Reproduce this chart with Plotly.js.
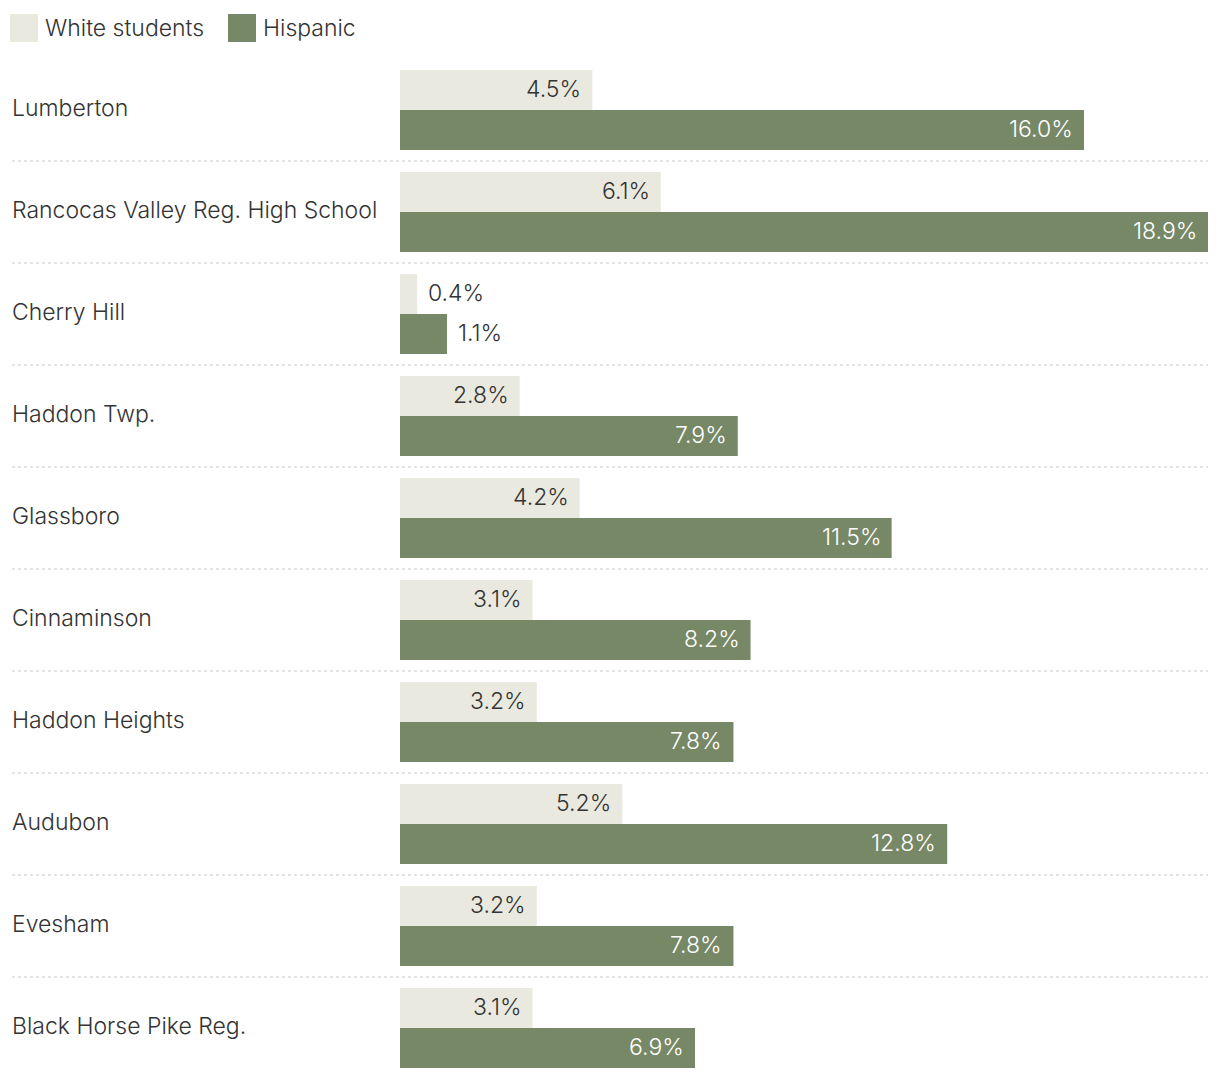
<!DOCTYPE html>
<html>
<head>
<meta charset="utf-8">
<script src="https://cdn.plot.ly/plotly-3.0.1.min.js"></script>
<style>html,body{margin:0;padding:0;background:#fff;}#chart{width:1220px;height:1078px;}</style>
</head>
<body>
<div id="chart"></div>
<script>
const categories = ["Lumberton","Rancocas Valley Reg. High School","Cherry Hill","Haddon Twp.","Glassboro","Cinnaminson","Haddon Heights","Audubon","Evesham","Black Horse Pike Reg."];
const whiteValues = [4.5, 6.1, 0.4, 2.8, 4.2, 3.1, 3.2, 5.2, 3.2, 3.1];
const hispanicValues = [16.0, 18.9, 1.1, 7.9, 11.5, 8.2, 7.8, 12.8, 7.8, 6.9];
const seriesNames = ["White students", "Hispanic"];

const W = 1220, H = 1078;
const mL = 400, mR = 12, mT = 59, mB = 0;
const plotW = W - mL - mR, plotH = H - mT - mB;
const px = x => (x - mL) / plotW;
const py = y => (H - mB - y) / plotH;

const FONT = "Inter, 'Open Sans', sans-serif";
const DARK = "#333333";
const LIGHT = "#eae9e0";
const GREEN = "#778866";
const FS = 23;
const FW = 300;

const traces = [
  {type:"bar", orientation:"h", name:seriesNames[0], y:categories, x:whiteValues,
   marker:{color:LIGHT, line:{width:0}}, hoverinfo:"x+name"},
  {type:"bar", orientation:"h", name:seriesNames[1], y:categories, x:hispanicValues,
   marker:{color:GREEN, line:{width:0}}, hoverinfo:"x+name"}
];

const annotations = [];
const shapes = [];
categories.forEach((c, i) => {
  annotations.push({xref:"paper", yref:"y", x:px(11), y:c, yshift:2, xanchor:"left", yanchor:"middle",
    borderpad:0, text:c, showarrow:false, font:{family:FONT, size:FS, weight:FW, color:DARK}});
  [[whiteValues, 21, DARK], [hispanicValues, -19, "#ffffff"]].forEach(([vals, ys, inCol]) => {
    const v = vals[i];
    const outside = v < 1.5;
    annotations.push({xref:"x", yref:"y", x:v, y:c, yshift:ys, borderpad:0,
      xanchor: outside ? "left" : "right", xshift: outside ? 10 : -10, yanchor:"middle",
      text: v.toFixed(1) + "%", showarrow:false,
      font:{family:FONT, size:FS, weight:FW, color: outside ? DARK : inCol}});
  });
  if (i < categories.length - 1) {
    shapes.push({type:"line", xref:"paper", yref:"y", x0:px(12), x1:px(1208), y0:i+0.5, y1:i+0.5,
      line:{color:"#c8c8c8", width:1, dash:"dot"}});
  }
});

// legend
const legendItems = [[seriesNames[0], LIGHT, 10], [seriesNames[1], GREEN, 228]];
legendItems.forEach(([name, col, x0]) => {
  shapes.push({type:"rect", xref:"paper", yref:"paper", x0:px(x0), x1:px(x0+28), y0:py(42), y1:py(14),
    fillcolor:col, line:{width:0}});
  annotations.push({xref:"paper", yref:"paper", x:px(x0+34), y:py(28), xanchor:"left", yanchor:"middle",
    borderpad:0, text:name, showarrow:false, font:{family:FONT, size:FS, weight:FW, color:DARK}});
});

const layout = {
  width:W, height:H,
  margin:{l:mL, r:mR, t:mT, b:mB, pad:0},
  paper_bgcolor:"#ffffff", plot_bgcolor:"#ffffff",
  barmode:"group", bargap:0.2157, bargroupgap:0,
  showlegend:false,
  xaxis:{range:[0, 18.9], visible:false, fixedrange:true},
  yaxis:{type:"category", range:[9.49, -0.5], visible:false, fixedrange:true},
  font:{family:FONT, color:DARK},
  shapes:shapes, annotations:annotations
};

Plotly.newPlot("chart", traces, layout, {displayModeBar:false, staticPlot:true});
</script>
</body>
</html>
